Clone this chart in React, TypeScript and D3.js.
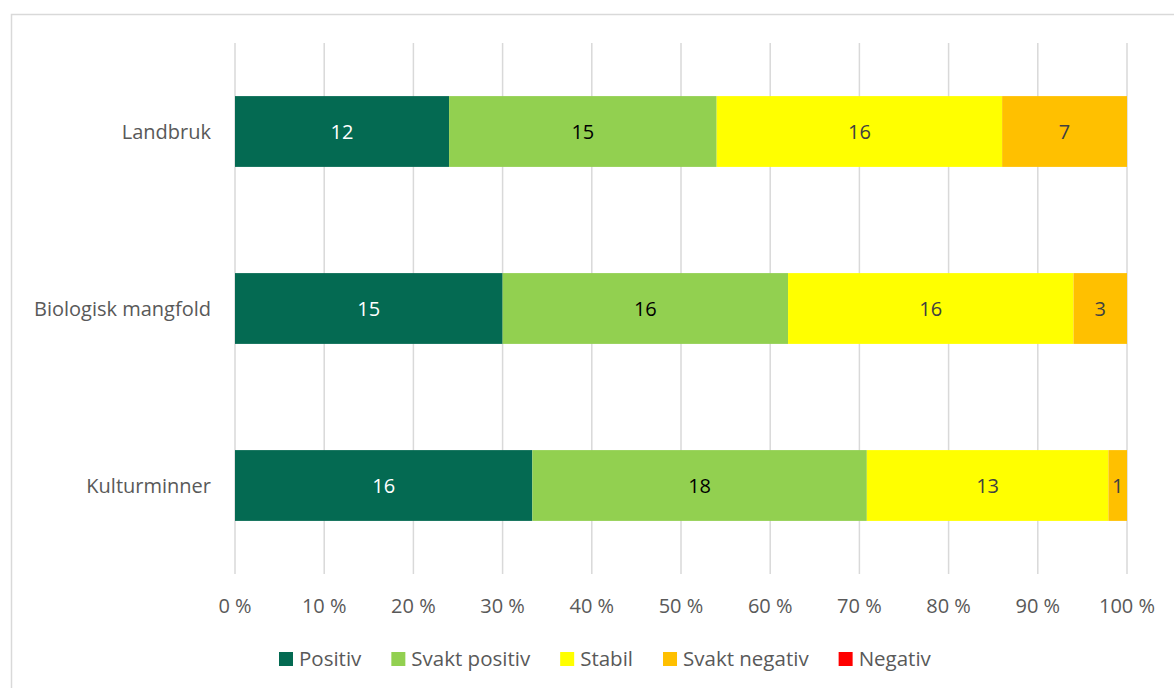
import * as d3 from 'd3';
import React, { useRef, useEffect } from 'react';

const categories = ['Landbruk', 'Biologisk mangfold', 'Kulturminner'];
const seriesNames = ['Positiv', 'Svakt positiv', 'Stabil', 'Svakt negativ', 'Negativ'];
const colors = ['#046A52', '#92D050', '#FFFF00', '#FFC000', '#FF0000'];
const labelColors = ['#ffffff', '#000000', '#404040', '#404040', '#404040'];
const positiv = [12, 15, 16];
const svaktPositiv = [15, 16, 18];
const stabil = [16, 16, 13];
const svaktNegativ = [7, 3, 1];
const negativ = [0, 0, 0];
const ticks = [0, 10, 20, 30, 40, 50, 60, 70, 80, 90, 100];

const font = '"Open Sans", "Liberation Sans", sans-serif';

function Chart() {
    const ref = useRef<SVGSVGElement>(null);

    useEffect(() => {
        const svg = d3.select(ref.current);
        svg.selectAll('*').remove();

        const width = 1174, height = 688;
        const series = [positiv, svaktPositiv, stabil, svaktNegativ, negativ];

        // chart border
        svg.append('rect')
            .attr('x', 11.5).attr('y', 14.5)
            .attr('width', 1180).attr('height', 700)
            .attr('fill', 'white')
            .attr('stroke', '#d9d9d9')
            .attr('stroke-width', 1.5);

        const x = d3.scaleLinear().domain([0, 100]).range([235, 1127]);
        const y = d3.scaleBand().domain(categories).range([43, 574]).paddingInner(0.6).paddingOuter(0.3);

        // gridlines
        svg.append('g').selectAll('line')
            .data(ticks)
            .enter().append('line')
            .attr('x1', d => x(d)).attr('x2', d => x(d))
            .attr('y1', 43).attr('y2', 574)
            .attr('stroke', '#d9d9d9')
            .attr('stroke-width', 1.5);

        // tick labels
        svg.append('g').selectAll('text')
            .data(ticks)
            .enter().append('text')
            .attr('x', d => x(d))
            .attr('y', 606)
            .attr('dy', '0.35em')
            .attr('text-anchor', 'middle')
            .attr('font-family', font)
            .attr('font-size', '20px')
            .attr('fill', '#595959')
            .text(d => d + ' %');

        // category labels
        svg.append('g').selectAll('text')
            .data(categories)
            .enter().append('text')
            .attr('x', 211)
            .attr('y', d => (y(d) as number) + y.bandwidth() / 2)
            .attr('dy', '0.35em')
            .attr('text-anchor', 'end')
            .attr('font-family', font)
            .attr('font-size', '20px')
            .attr('fill', '#595959')
            .text(d => d);

        // bars
        categories.forEach((cat, ci) => {
            const total = d3.sum(series, s => s[ci]);
            let acc = 0;
            series.forEach((s, si) => {
                const v = s[ci];
                const x0 = x(acc / total * 100);
                acc += v;
                const x1 = x(acc / total * 100);
                if (v === 0) return;
                svg.append('rect')
                    .attr('x', x0).attr('y', y(cat) as number)
                    .attr('width', x1 - x0).attr('height', y.bandwidth())
                    .attr('fill', colors[si]);
                svg.append('text')
                    .attr('x', (x0 + x1) / 2)
                    .attr('y', (y(cat) as number) + y.bandwidth() / 2)
                    .attr('dy', '0.35em')
                    .attr('text-anchor', 'middle')
                    .attr('font-family', font)
                    .attr('font-size', '20px')
                    .attr('fill', labelColors[si])
                    .text(v);
            });
        });

        // legend, laid out from measured text widths
        const legend = svg.append('g');
        let lx = 279;
        seriesNames.forEach((name, i) => {
            legend.append('rect')
                .attr('x', lx).attr('y', 652)
                .attr('width', 14).attr('height', 14)
                .attr('fill', colors[i]);
            const t = legend.append('text')
                .attr('x', lx + 20).attr('y', 659)
                .attr('dy', '0.35em')
                .attr('font-family', font)
                .attr('font-size', '20.5px')
                .attr('fill', '#595959')
                .text(name);
            const w = (t.node() as SVGTextElement).getComputedTextLength();
            lx += 20 + w + 30;
        });

        svg.attr('width', width).attr('height', height);
    }, []);

    return <svg ref={ref} style={{ display: 'block' }}></svg>;
}

export default function App() {
    return (
        <div style={{ position: 'absolute', left: 0, top: 0 }}>
            <Chart />
        </div>
    );
}
